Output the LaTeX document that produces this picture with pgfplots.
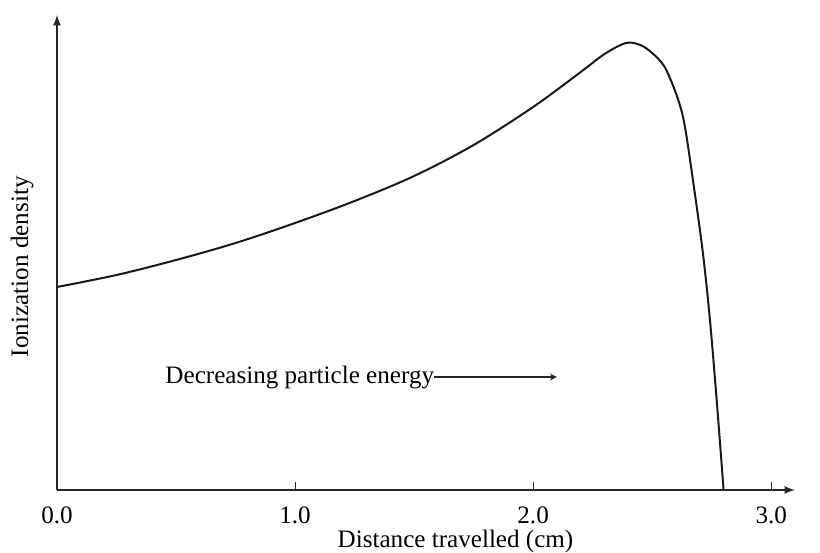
\documentclass[border=0pt]{standalone}
\usepackage{fontspec}
\setmainfont{Liberation Serif}
\usepackage{pgfplots}
\pgfplotsset{compat=1.18}
\begin{document}
\begin{tikzpicture}[font=\fontsize{12.6}{15}\selectfont]
\begin{axis}[
    scale only axis,
    width=369bp, height=237.5bp,
    xmin=0, xmax=3.1,
    ymin=0, ymax=4.75,
    axis lines=left,
    axis line style={line width=0.8bp, black!85, -latex},
    xtick={0,1,2,3},
    xticklabels={0.0,1.0,2.0,3.0},
    ytick=\empty,
    tick align=inside,
    major tick length=4bp,
    tick style={line width=0.5bp, black!85},
    xticklabel style={yshift=-5bp},
    xlabel={Distance travelled (cm)},
    ylabel={Ionization density},
    xlabel style={at={(axis description cs:0.54,-0.108)}, anchor=center},
    ylabel style={at={(axis description cs:-0.0474,0.47)}, anchor=center},
    clip=false,
]
\addplot[black!90, line width=1bp, smooth, tension=0.55] coordinates {
    (0.00,2.03) (0.25,2.15) (0.50,2.30) (0.75,2.47) (1.00,2.67)
    (1.25,2.89) (1.50,3.14) (1.75,3.45) (2.00,3.83) (2.20,4.18)
    (2.30,4.36) (2.39,4.47) (2.45,4.45) (2.50,4.37) (2.55,4.24)
    (2.59,4.03) (2.62,3.82) (2.64,3.60) (2.67,3.12) (2.71,2.43)
    (2.74,1.77) (2.77,0.93) (2.80,0.00)
};
\node[anchor=west, inner sep=0pt] (t) at (axis cs:0.454,1.13) {Decreasing particle energy};
\draw[-stealth, line width=0.6bp, black!85] (t.east) -- (axis cs:2.10,1.13);
\end{axis}
\pgfresetboundingbox
\path[use as bounding box] ([shift={(-28.5bp,-31.5bp)}]current axis.south west) rectangle ([shift={(12.5bp,7.5bp)}]current axis.north east);
\end{tikzpicture}
\end{document}
